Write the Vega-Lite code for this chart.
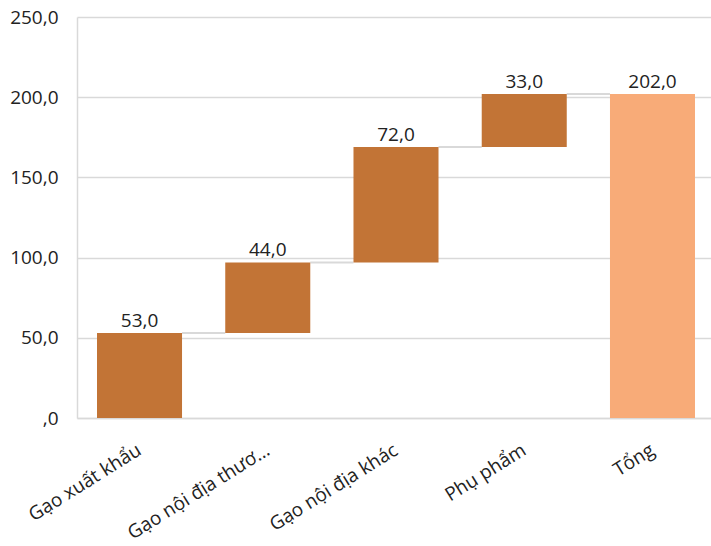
{
  "$schema": "https://vega.github.io/schema/vega-lite/v6.json",
  "width": 638,
  "height": 401,
  "autosize": "none",
  "padding": {"left": 77, "top": 17, "right": 0, "bottom": 128},
  "background": "white",
  "config": {
    "view": {"stroke": null},
    "font": "Open Sans",
    "axis": {"labelFont": "Open Sans", "labelColor": "#222222", "labelFontSize": 19}
  },
  "data": {
    "values": [
      {"cat": "Gạo xuất khẩu", "start": 0, "end": 53, "value": 53, "label": "53,0", "type": "step", "next": "Gạo nội địa thươ…"},
      {"cat": "Gạo nội địa thươ…", "start": 53, "end": 97, "value": 44, "label": "44,0", "type": "step", "next": "Gạo nội địa khác"},
      {"cat": "Gạo nội địa khác", "start": 97, "end": 169, "value": 72, "label": "72,0", "type": "step", "next": "Phụ phẩm"},
      {"cat": "Phụ phẩm", "start": 169, "end": 202, "value": 33, "label": "33,0", "type": "step", "next": "Tổng"},
      {"cat": "Tổng", "start": 0, "end": 202, "value": 202, "label": "202,0", "type": "total", "next": null}
    ]
  },
  "encoding": {
    "x": {
      "field": "cat",
      "type": "nominal",
      "sort": null,
      "scale": {"paddingInner": 0.337, "paddingOuter": 0.156},
      "axis": {
        "title": null,
        "labelAngle": -32,
        "labelAlign": "right",
        "labelBaseline": "middle",
        "labelPadding": 30,
        "ticks": false,
        "domainColor": "#d9d9d9",
        "domainWidth": 1.5,
        "labelLimit": 300
      }
    }
  },
  "layer": [
    {
      "mark": {"type": "rule", "color": "#d9d9d9", "strokeWidth": 2},
      "transform": [{"filter": "datum.next != null"}],
      "encoding": {
        "x": {"field": "cat", "type": "nominal", "sort": null, "bandPosition": 1},
        "x2": {"field": "next", "bandPosition": 0},
        "y": {"field": "end", "type": "quantitative", "scale": {"domain": [0, 250], "nice": false}}
      }
    },
    {
      "mark": {"type": "bar"},
      "encoding": {
        "y": {
          "field": "start",
          "type": "quantitative",
          "scale": {"domain": [0, 250], "nice": false},
          "axis": {
            "title": null,
            "values": [0, 50, 100, 150, 200, 250],
            "labelExpr": "datum.value == 0 ? ',0' : replace(format(datum.value, '.1f'), '.', ',')",
            "ticks": false,
            "labelPadding": 19,
            "domainColor": "#d9d9d9",
            "domainWidth": 1.5,
            "gridColor": "#d9d9d9",
            "gridWidth": 1.5
          }
        },
        "y2": {"field": "end"},
        "color": {
          "field": "type",
          "type": "nominal",
          "scale": {"domain": ["step", "total"], "range": ["#C27436", "#F8AB78"]},
          "legend": null
        }
      }
    },
    {
      "mark": {"type": "text", "baseline": "bottom", "dy": -2, "fontSize": 19, "color": "#222222", "font": "Open Sans"},
      "encoding": {
        "y": {"field": "end", "type": "quantitative", "scale": {"domain": [0, 250], "nice": false}},
        "text": {"field": "label", "type": "nominal"}
      }
    }
  ]
}
